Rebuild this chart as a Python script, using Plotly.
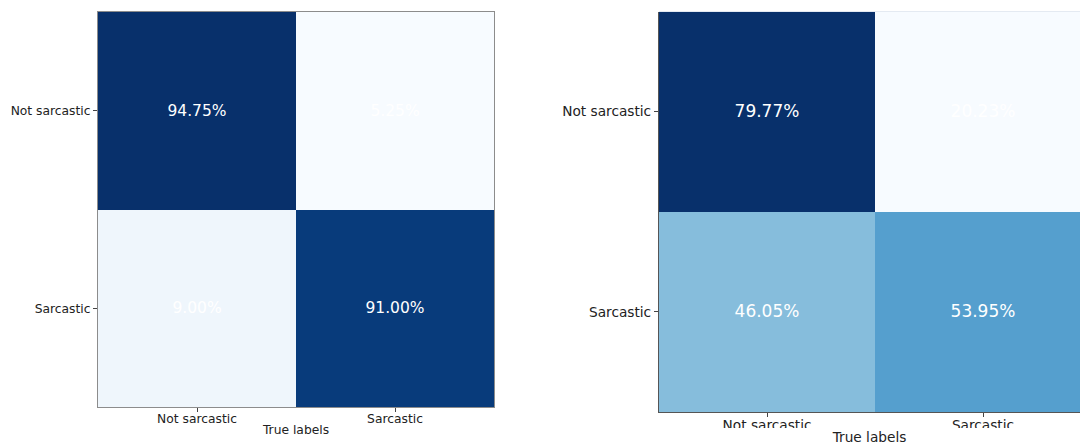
import plotly.graph_objects as go

# Data
categories = ["Not sarcastic", "Sarcastic"]
left_values = [[94.75, 5.25], [9.00, 91.00]]
right_values = [[79.77, 20.23], [46.05, 53.95]]
x_title = "True labels"

# matplotlib "Blues" colormap
blues = ["#f7fbff", "#deebf7", "#c6dbef", "#9ecae1", "#6baed6",
         "#4292c6", "#2171b5", "#08519c", "#08306b"]
blues_scale = [[i / (len(blues) - 1), c] for i, c in enumerate(blues)]

FONT = "DejaVu Sans"
W, H = 1080, 446

def px_x(a, b):
    return [a / W, b / W]

def px_y(top, bottom):
    return [1 - bottom / H, 1 - top / H]

fig = go.Figure()

idx = list(range(len(categories)))

for vals, xa, ya, tsize in [(left_values, "x", "y", 15.5), (right_values, "x2", "y2", 17)]:
    flat = [v for row in vals for v in row]
    fig.add_trace(go.Heatmap(
        z=vals, x=idx, y=idx,
        colorscale=blues_scale, zmin=min(flat), zmax=max(flat),
        showscale=False, xaxis=xa, yaxis=ya,
        texttemplate="%{z:.2f}%",
        textfont=dict(color="white", size=tsize, family=FONT),
        hoverinfo="skip", xgap=0, ygap=0,
    ))

axis_common = dict(tickmode="array", tickvals=idx, ticktext=categories,
                   ticks="outside", ticklen=4, tickcolor="#444",
                   showgrid=False, zeroline=False)

fig.update_layout(
    width=W, height=H,
    margin=dict(l=0, r=0, t=0, b=0),
    paper_bgcolor="white", plot_bgcolor="white",
    font=dict(family=FONT, color="#222"),
    xaxis=dict(domain=px_x(98, 494), range=[-0.5, 1.5], anchor="y",
               showline=True, mirror=True, linecolor="#8c8c8c", linewidth=1,
               tickfont=dict(size=12.3), ticklabelstandoff=-4,
               title=dict(text=x_title, font=dict(size=12.3), standoff=0),
               **axis_common),
    yaxis=dict(domain=px_y(12, 407), range=[1.5, -0.5], anchor="x",
               showline=True, mirror=True, linecolor="#8c8c8c", linewidth=1,
               tickfont=dict(size=12.3),
               **axis_common),
    xaxis2=dict(domain=[659 / W, 1.0], range=[-0.5, -0.5 + 421 / 216], anchor="y2",
                showline=True, linecolor="#555", linewidth=1.2,
                tickfont=dict(size=13.7), ticklabelstandoff=-4,
                title=dict(text=x_title, font=dict(size=13.7), standoff=0),
                **axis_common),
    yaxis2=dict(domain=px_y(11.5, 412), range=[1.5, -0.5], anchor="x2",
                showline=True, linecolor="#555", linewidth=1.2,
                tickfont=dict(size=13.7),
                **axis_common),
)

# faint top edge of right panel
fig.add_shape(type="line", xref="x2 domain", yref="y2 domain",
              x0=0, x1=1, y0=1, y1=1, line=dict(color="#e4eaf2", width=1))

# the right panel's tick labels are cropped at the bottom in the reference
fig.add_shape(type="rect", xref="paper", yref="paper", layer="above",
              x0=0.56, x1=1.0, y0=1 - 431 / H, y1=1 - 428 / H,
              fillcolor="white", line=dict(width=0))

fig.write_html("out.html", config={"displayModeBar": False},
               post_script="document.body.style.margin='0';")
